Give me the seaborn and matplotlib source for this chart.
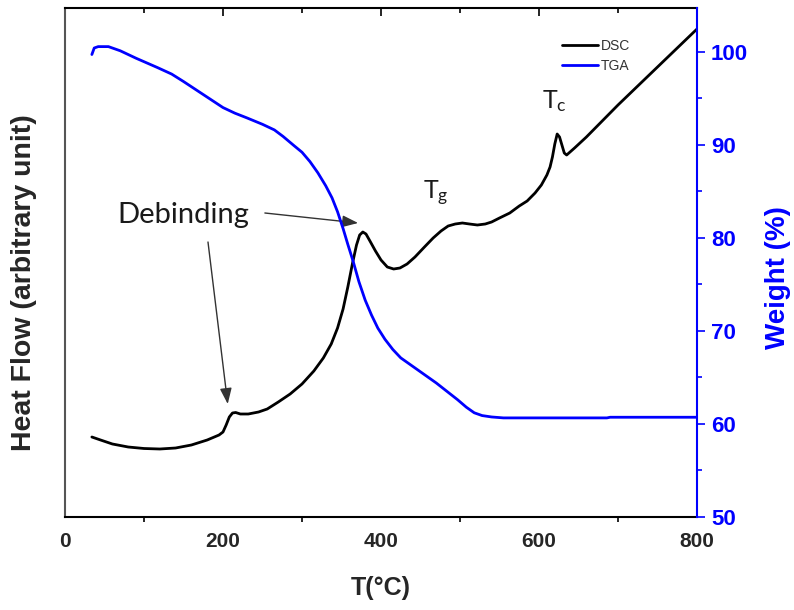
import seaborn as sns
import matplotlib.pyplot as plt
from matplotlib.ticker import MultipleLocator, NullFormatter

# DSC curve (arbitrary units) and TGA weight loss
dsc_temp = [34, 45, 60, 80, 100, 120, 140, 160, 180, 195, 200, 204, 208, 212, 216,
            222, 232, 245, 256, 270, 285, 300, 315, 327, 337, 345, 352, 358, 364, 369,
            373, 377, 381, 386, 393, 400, 408, 416, 424, 433, 443, 455, 466, 476, 485,
            494, 503, 512, 522, 532, 540, 550, 563, 575, 585, 595, 603, 610, 614, 617,
            620, 623, 626, 629, 632, 635, 645, 660, 680, 700, 750, 800]
dsc_val = [8.0, 7.7, 7.3, 7.0, 6.85, 6.8, 6.9, 7.2, 7.7, 8.2, 8.5, 9.2, 10.0, 10.4, 10.45,
           10.3, 10.3, 10.5, 10.8, 11.5, 12.3, 13.3, 14.6, 15.9, 17.3, 18.9, 20.8, 23.0, 25.4, 27.2,
           28.2, 28.5, 28.3, 27.6, 26.6, 25.7, 25.0, 24.8, 24.9, 25.3, 26.0, 27.0, 27.9, 28.6, 29.1,
           29.3, 29.4, 29.3, 29.2, 29.3, 29.5, 29.9, 30.4, 31.1, 31.6, 32.4, 33.2, 34.2, 35.0, 36.0,
           37.3, 38.3, 38.0, 37.2, 36.4, 36.2, 36.9, 38.0, 39.6, 41.2, 45.0, 48.8]

tga_temp = [34, 37, 42, 55, 70, 90, 117, 135, 150, 175, 200, 215, 230, 250, 265,
            276, 290, 300, 310, 320, 330, 338, 345, 352, 358, 365, 372, 380, 388, 396,
            405, 415, 425, 440, 455, 470, 485, 497, 508, 518, 528, 540, 555, 600, 686,
            690, 800]
tga_weight = [99.7, 100.4, 100.55, 100.55, 100.1, 99.3, 98.3, 97.6, 96.8, 95.4, 94.0, 93.4, 92.9, 92.2, 91.6,
              90.9, 89.9, 89.2, 88.2, 87.0, 85.6, 84.3, 82.8, 81.0, 79.3, 77.4, 75.3, 73.3, 71.7, 70.3,
              69.1, 68.0, 67.1, 66.2, 65.3, 64.4, 63.4, 62.6, 61.8, 61.2, 60.9, 60.75, 60.65, 60.65, 60.65,
              60.72, 60.72]

x_ticks = [0, 200, 400, 600, 800]
w_ticks = [50, 60, 70, 80, 90, 100]

sns.set_theme(style="white")
plt.rcParams['font.family'] = ['Liberation Sans', 'DejaVu Sans']
plt.rcParams['mathtext.fontset'] = 'custom'
plt.rcParams['mathtext.rm'] = 'Lato'
plt.rcParams['mathtext.it'] = 'Lato'

blue = '#0000ff'

fig = plt.figure(figsize=(7.94, 6.10), dpi=100)
ax = fig.add_axes([65 / 794, 1 - 517 / 610, 632 / 794, 509 / 610])
ax2 = ax.twinx()

sns.lineplot(x=dsc_temp, y=dsc_val, ax=ax, color='black', lw=2, label='DSC', legend=False)
sns.lineplot(x=tga_temp, y=tga_weight, ax=ax2, color=blue, lw=2, label='TGA', legend=False)

ax.set_xlim(0, 800)
ax.set_ylim(0, 50.9)
ax2.set_ylim(50, 104.7)

# bottom axis
ax.set_xticks(x_ticks)
ax.xaxis.set_minor_locator(MultipleLocator(100))
ax.tick_params(axis='x', which='major', direction='out', length=6, width=1.2, color='black',
               labelsize=15, pad=5)
ax.tick_params(axis='x', which='minor', direction='out', length=3.5, width=1.2, color='black',
               bottom=True)
for lab in ax.get_xticklabels():
    lab.set_fontweight('bold')
ax.set_yticks([])

# top axis: inward ticks, no labels
top = ax.secondary_xaxis('top')
top.set_xticks(x_ticks)
top.xaxis.set_minor_locator(MultipleLocator(100))
top.xaxis.set_major_formatter(NullFormatter())
top.tick_params(axis='x', which='major', direction='in', length=6, width=1.2, color='black')
top.tick_params(axis='x', which='minor', direction='in', length=3.5, width=1.2, color='black')
top.spines['top'].set_visible(False)

# right axis (weight)
ax2.set_yticks(w_ticks)
ax2.yaxis.set_minor_locator(MultipleLocator(5))
ax2.tick_params(axis='y', which='major', direction='out', length=6, width=1.2, color=blue,
                labelcolor=blue, labelsize=16, pad=4)
ax2.tick_params(axis='y', which='minor', direction='out', length=3.5, width=1.2, color=blue, right=True)
for lab in ax2.get_yticklabels():
    lab.set_fontweight('bold')

for s in ['top', 'bottom']:
    ax.spines[s].set_color('black')
    ax.spines[s].set_linewidth(1.5)
ax.spines['left'].set_color('#555555')
ax.spines['left'].set_linewidth(1.5)
ax.spines['right'].set_visible(False)
for s in ['top', 'bottom', 'left']:
    ax2.spines[s].set_visible(False)
ax2.spines['right'].set_color(blue)
ax2.spines['right'].set_linewidth(1.5)

ax.set_xlabel('T(°C)', fontsize=18, fontweight='bold', labelpad=18)
ax.set_ylabel('Heat Flow (arbitrary unit)', fontsize=20.5, fontweight='bold')
ax.yaxis.set_label_coords(-0.044, 0.46)
ax2.set_ylabel('Weight (%)', fontsize=20, fontweight='bold', color=blue)
ax2.yaxis.set_label_coords(1.107, 0.47)

# annotations
arrow = dict(arrowstyle='-|>,head_length=0.8,head_width=0.3', color='#333333', lw=1,
             shrinkA=0, shrinkB=0)
ax.text(150, 30.2, 'Debinding', fontsize=21, family='Lato', color='#1a1a1a',
        ha='center', va='center')
ax.annotate('', xy=(206, 11.3), xytext=(181, 27.5), arrowprops=arrow)
ax.annotate('', xy=(371, 29.4), xytext=(253, 30.4), arrowprops=arrow)
ax.text(470, 32.4, r'$\mathrm{T_g}$', fontsize=18, color='#1a1a1a', ha='center', va='center')
ax.text(620, 41.6, r'$\mathrm{T_c}$', fontsize=18, color='#1a1a1a', ha='center', va='center')

h1, l1 = ax.get_legend_handles_labels()
h2, l2 = ax2.get_legend_handles_labels()
leg = ax2.legend(h1 + h2, l1 + l2, loc='upper left', bbox_to_anchor=(549 / 794, 1 - 26 / 610),
                 bbox_transform=fig.transFigure, frameon=False, fontsize=10,
                 handlelength=2.6, handletextpad=0.25, labelspacing=0.45, borderpad=0.4)
for t in leg.get_texts():
    t.set_color('#333333')

fig.savefig('out.png', dpi=100)
